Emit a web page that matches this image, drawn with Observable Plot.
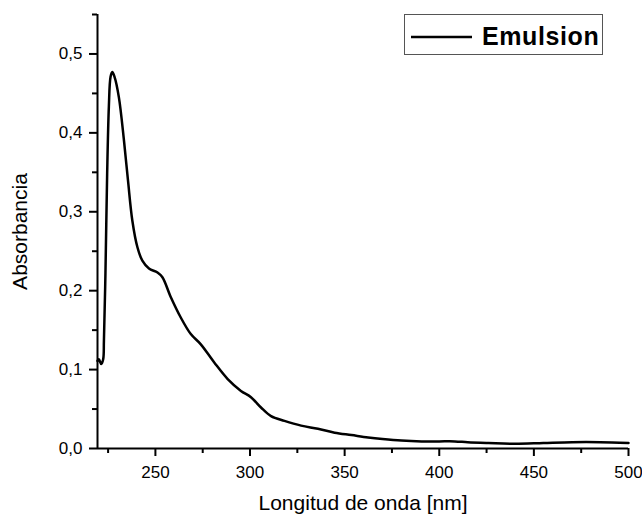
<!DOCTYPE html>
<html><head><meta charset="utf-8">
<script src="https://cdn.jsdelivr.net/npm/d3@7"></script>
<script src="https://cdn.jsdelivr.net/npm/@observablehq/plot@0.6"></script>
<style>
body{margin:0;background:#fff;}
#wrap{position:relative;width:642px;height:515px;}
#legend{position:absolute;left:404px;top:14px;width:197px;height:39px;border:1px solid #555;font-family:"Liberation Sans",Arial,sans-serif;}
#legend svg{position:absolute;left:0;top:0;}
#legend span{position:absolute;left:77px;top:6px;font-size:25px;font-weight:bold;letter-spacing:0.6px;line-height:30px;color:#000;}
</style></head><body><div id="wrap"></div>
<script>
const wavelength = [219.4, 220.1, 221.4, 222.4, 222.8, 223.6, 224.5, 225.4, 226.3, 227.2, 228.4, 230.7, 233.4, 235.5, 237.8, 240.5, 243.1, 246.6, 251.1, 253.7, 258.1, 263.4, 268.7, 274.0, 281.1, 288.2, 295.2, 300.5, 305.8, 311.1, 318.2, 327.0, 335.9, 344.7, 353.6, 362.4, 370, 380, 390.7, 400, 408.3, 415, 426.0, 440.1, 455, 470.2, 485, 500];
const absorbance = [0.111, 0.113, 0.107, 0.113, 0.137, 0.222, 0.348, 0.433, 0.471, 0.477, 0.471, 0.445, 0.390, 0.340, 0.289, 0.255, 0.238, 0.228, 0.223, 0.217, 0.192, 0.166, 0.145, 0.132, 0.109, 0.088, 0.073, 0.065, 0.052, 0.041, 0.035, 0.029, 0.025, 0.020, 0.017, 0.014, 0.012, 0.010, 0.009, 0.009, 0.009, 0.008, 0.007, 0.006, 0.007, 0.008, 0.008, 0.007];
const xTicks = [250, 300, 350, 400, 450, 500];
const xMinor = [225, 275, 325, 375, 425, 475];
const yTicks = [0, 0.1, 0.2, 0.3, 0.4, 0.5];
const yMinor = [0.05, 0.15, 0.25, 0.35, 0.45, 0.55];
const seriesName = "Emulsion";
const xLabel = "Longitud de onda [nm]";
const yLabel = "Absorbancia";

const data = wavelength.map((w, i) => ({w, a: absorbance[i]}));
const fmt = d => d.toFixed(1).replace(".", ",");
const xMin = wavelength[0];

const chart = Plot.plot({
  width: 642, height: 515,
  marginLeft: 97, marginRight: 14, marginTop: 14, marginBottom: 67,
  style: {fontFamily: "'Liberation Sans', Arial, sans-serif", fontSize: "17px", color: "#000", background: "#fff"},
  x: {domain: [xMin, 500]},
  y: {domain: [0, 0.55]},
  marks: [
    Plot.axisX(xMinor, {tickSize: 5, tickFormat: () => "", strokeWidth: 2, label: null}),
    Plot.axisX(xTicks, {tickSize: 8, tickPadding: 9, strokeWidth: 2, label: null, fontSize: 17}),
    Plot.axisY(yMinor, {tickSize: 5, tickFormat: () => "", strokeWidth: 2, label: null}),
    Plot.axisY(yTicks, {tickSize: 8, tickPadding: 7, tickFormat: fmt, strokeWidth: 2, label: null, fontSize: 17}),
    Plot.ruleY([0], {strokeWidth: 2}),
    Plot.ruleX([xMin], {strokeWidth: 2}),
    Plot.line(data, {x: "w", y: "a", strokeWidth: 2.5, curve: "catmull-rom"}),
    Plot.text([xLabel], {frameAnchor: "bottom", lineAnchor: "middle", textAnchor: "middle", dy: 55, fontSize: 21}),
    Plot.text([yLabel], {frameAnchor: "left", lineAnchor: "middle", textAnchor: "middle", dx: -77, rotate: -90, fontSize: 21})
  ]
});
const wrap = document.getElementById("wrap");
wrap.appendChild(chart);
const legend = document.createElement("div");
legend.id = "legend";
legend.innerHTML = '<svg width="197" height="39"><line x1="6" x2="67" y1="22" y2="22" stroke="#000" stroke-width="2.5"/></svg><span></span>';
legend.querySelector("span").textContent = seriesName;
wrap.appendChild(legend);
</script>
</body></html>
